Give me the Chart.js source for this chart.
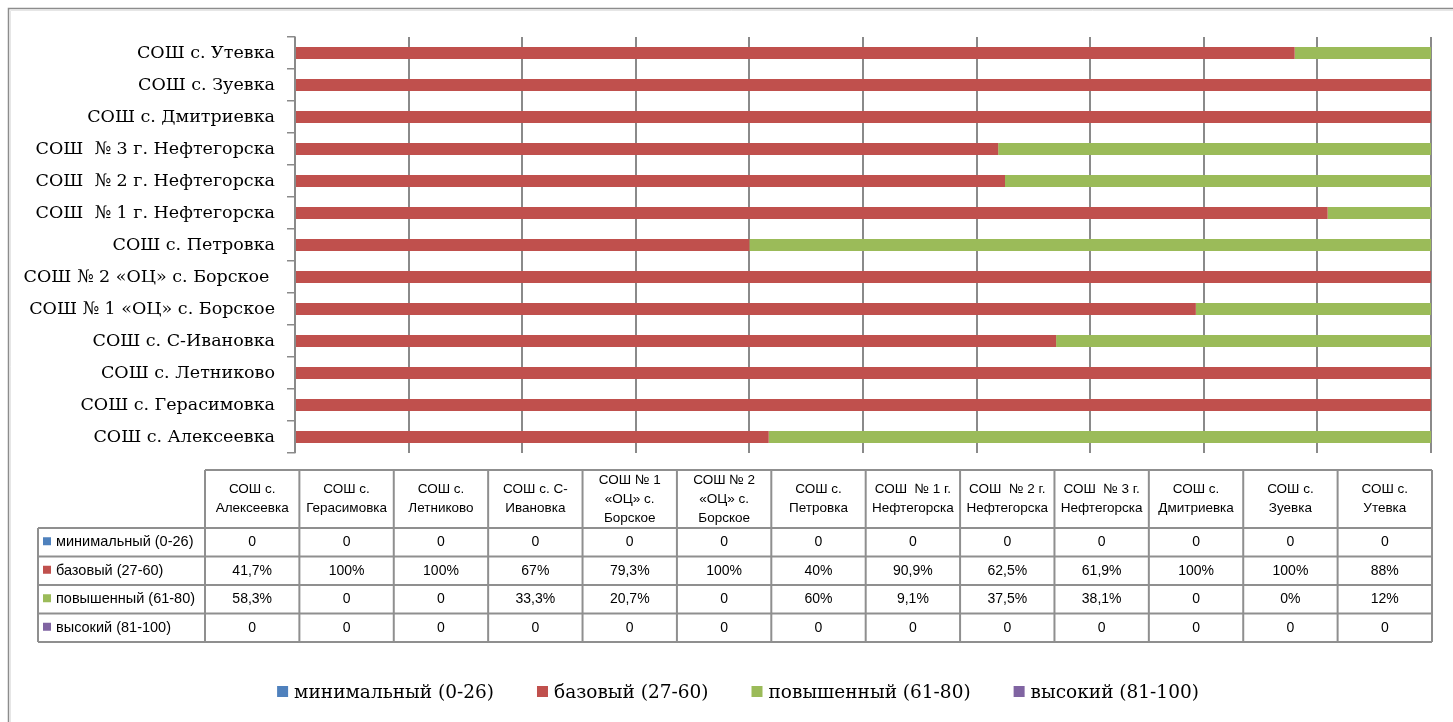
<!DOCTYPE html>
<html>
<head>
<meta charset="utf-8">
<script src="https://cdn.jsdelivr.net/npm/chart.js@4/dist/chart.umd.min.js"></script>
<style>
  html, body { margin: 0; padding: 0; background: #ffffff; }
  #wrap { position: relative; width: 1453px; height: 722px; }
</style>
</head>
<body>
<div id="wrap"><canvas id="c" width="1453" height="722"></canvas></div>
<script>
// ---- data ----
const categories = [
  'СОШ с. Алексеевка',
  'СОШ с. Герасимовка',
  'СОШ с. Летниково',
  'СОШ с. С-Ивановка',
  'СОШ № 1 «ОЦ» с. Борское',
  'СОШ № 2 «ОЦ» с. Борское ',
  'СОШ с. Петровка',
  'СОШ  № 1 г. Нефтегорска',
  'СОШ  № 2 г. Нефтегорска',
  'СОШ  № 3 г. Нефтегорска',
  'СОШ с. Дмитриевка',
  'СОШ с. Зуевка',
  'СОШ с. Утевка'
];
const tableHeaders = [
  ['СОШ с.', 'Алексеевка'],
  ['СОШ с.', 'Герасимовка'],
  ['СОШ с.', 'Летниково'],
  ['СОШ с. С-', 'Ивановка'],
  ['СОШ № 1', '«ОЦ» с.', 'Борское'],
  ['СОШ № 2', '«ОЦ» с.', 'Борское'],
  ['СОШ с.', 'Петровка'],
  ['СОШ  № 1 г.', 'Нефтегорска'],
  ['СОШ  № 2 г.', 'Нефтегорска'],
  ['СОШ  № 3 г.', 'Нефтегорска'],
  ['СОШ с.', 'Дмитриевка'],
  ['СОШ с.', 'Зуевка'],
  ['СОШ с.', 'Утевка']
];
const seriesNames = ['минимальный (0-26)', 'базовый (27-60)', 'повышенный (61-80)', 'высокий (81-100)'];
const minimalText  = ['0','0','0','0','0','0','0','0','0','0','0','0','0'];
const baseText     = ['41,7%','100%','100%','67%','79,3%','100%','40%','90,9%','62,5%','61,9%','100%','100%','88%'];
const elevatedText = ['58,3%','0','0','33,3%','20,7%','0','60%','9,1%','37,5%','38,1%','0','0%','12%'];
const highText     = ['0','0','0','0','0','0','0','0','0','0','0','0','0'];
const seriesColors = ['#4F81BD', '#C0504D', '#9BBB59', '#8064A2'];

const toNum = s => parseFloat(s.replace('%', '').replace(',', '.'));
const seriesText = [minimalText, baseText, elevatedText, highText];

// ---- layout constants ----
const PLOT_LEFT = 295, PLOT_RIGHT = 1431, PLOT_TOP = 37, PLOT_BOTTOM = 453;
const W = 1453, H = 722;
const GRID = '#8a8a8a';
const SERIF = '"DejaVu Serif", "Liberation Serif", serif';
const SANS = '"Liberation Sans", Arial, sans-serif';

const framePlugin = {
  id: 'frame',
  beforeDraw(chart) {
    const ctx = chart.ctx;
    ctx.save();
    ctx.fillStyle = '#fff';
    ctx.fillRect(0, 0, W, H);
    ctx.strokeStyle = '#8c8c8c';
    ctx.lineWidth = 1.5;
    ctx.beginPath();
    ctx.moveTo(8.5, H);
    ctx.lineTo(8.5, 8.5);
    ctx.lineTo(W, 8.5);
    ctx.stroke();
    ctx.strokeStyle = '#e6e6e6';
    ctx.lineWidth = 1;
    ctx.beginPath();
    ctx.moveTo(10.5, H);
    ctx.lineTo(10.5, 10.5);
    ctx.lineTo(W, 10.5);
    ctx.stroke();
    ctx.restore();
  }
};

const tablePlugin = {
  id: 'dataTable',
  afterDraw(chart) {
    const ctx = chart.ctx;
    const n = chart.data.labels.length;
    const rowHeadLeft = 38, colLeft = 205, colRight = 1432;
    const colW = (colRight - colLeft) / n;
    const headTop = 470, headBottom = 528, rowH = 28.5;
    const nRows = chart.data.datasets.length;
    const tableBottom = headBottom + nRows * rowH;
    ctx.save();
    // header text
    ctx.fillStyle = '#000';
    ctx.font = '13.5px ' + SANS;
    ctx.textAlign = 'center';
    ctx.textBaseline = 'middle';
    tableHeaders.forEach((lines, i) => {
      const cx = colLeft + colW * (i + 0.5);
      const lh = 19;
      const cy = (headTop + headBottom) / 2;
      const y0 = cy - (lines.length - 1) * lh / 2;
      lines.forEach((t, k) => ctx.fillText(t, cx, y0 + k * lh));
    });
    // rows
    chart.data.datasets.forEach((ds, r) => {
      const cy = headBottom + rowH * (r + 0.5);
      ctx.fillStyle = ds.backgroundColor;
      ctx.fillRect(43, cy - 5, 8, 8);
      ctx.fillStyle = '#000';
      ctx.textAlign = 'left';
      ctx.font = '14.5px ' + SANS;
      ctx.fillText(ds.label, 56, cy);
      ctx.textAlign = 'center';
      ctx.font = '14px ' + SANS;
      seriesText[r].forEach((t, i) => {
        ctx.fillText(t, colLeft + colW * (i + 0.5), cy);
      });
    });
    // grid lines
    ctx.strokeStyle = '#8f8f8f';
    ctx.lineWidth = 2;
    ctx.beginPath();
    ctx.moveTo(colLeft, headTop); ctx.lineTo(colRight, headTop);
    for (let i = 0; i <= n; i++) {
      const x = colLeft + colW * i;
      ctx.moveTo(x, headTop); ctx.lineTo(x, tableBottom);
    }
    ctx.moveTo(rowHeadLeft, headBottom); ctx.lineTo(rowHeadLeft, tableBottom);
    for (let r = 0; r <= nRows; r++) {
      const y = headBottom + rowH * r;
      ctx.moveTo(rowHeadLeft, y); ctx.lineTo(colRight, y);
    }
    ctx.stroke();
    ctx.restore();
  }
};

const legendPlugin = {
  id: 'bottomLegend',
  afterDraw(chart) {
    const ctx = chart.ctx;
    ctx.save();
    ctx.font = '18.5px ' + SERIF;
    ctx.textBaseline = 'middle';
    const box = 11, gapBox = 6, gapItem = 43;
    const items = chart.data.datasets.map(ds => ({ label: ds.label, color: ds.backgroundColor, w: ctx.measureText(ds.label).width }));
    let total = 0;
    items.forEach((it, i) => { total += box + gapBox + it.w + (i < items.length - 1 ? gapItem : 0); });
    let x = 738 - total / 2;
    const cy = 692;
    items.forEach(it => {
      ctx.fillStyle = it.color;
      ctx.fillRect(x, cy - 6, box, box);
      ctx.fillStyle = '#000';
      ctx.fillText(it.label, x + box + gapBox, cy + 1);
      x += box + gapBox + it.w + gapItem;
    });
    ctx.restore();
  }
};

const datasets = seriesNames.map((name, k) => ({
  label: name,
  data: seriesText[k].map(toNum),
  backgroundColor: seriesColors[k],
  borderWidth: 0,
  barPercentage: 0.375,
  categoryPercentage: 1.0
}));

new Chart(document.getElementById('c'), {
  type: 'bar',
  data: { labels: categories, datasets },
  plugins: [framePlugin, tablePlugin, legendPlugin],
  options: {
    indexAxis: 'y',
    responsive: false,
    animation: false,
    events: [],
    layout: { padding: { left: 0, right: W - PLOT_RIGHT, top: PLOT_TOP, bottom: H - PLOT_BOTTOM } },
    plugins: { legend: { display: false }, tooltip: { enabled: false } },
    scales: {
      x: {
        stacked: true,
        min: 0, max: 100,
        ticks: { display: false, stepSize: 10 },
        grid: { color: GRID, lineWidth: 2, drawTicks: false },
        border: { display: false },
        afterFit(s) { s.height = 0; }
      },
      y: {
        stacked: true,
        reverse: true,
        ticks: { color: '#000', font: { family: SERIF, size: 17.5 }, padding: 12 },
        grid: { drawOnChartArea: false, drawTicks: true, tickLength: 8, color: GRID, lineWidth: 1.5, offset: true },
        border: { display: true, color: GRID, width: 1.5 },
        afterFit(s) { s.width = PLOT_LEFT; }
      }
    }
  }
});
</script>
</body>
</html>
